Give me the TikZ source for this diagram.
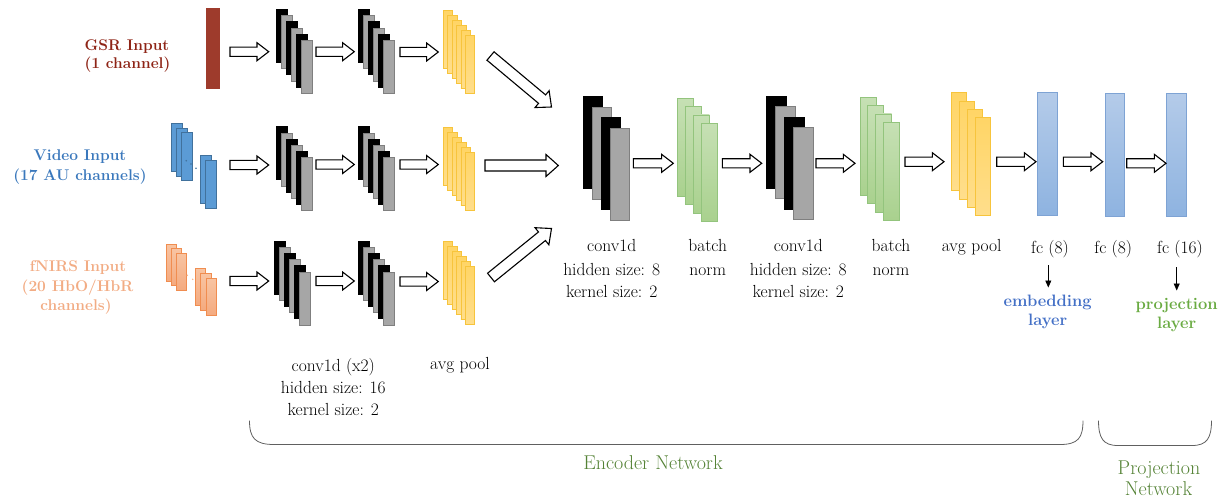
\documentclass[tikz,border=0pt]{standalone}
\usetikzlibrary{calc,arrows.meta}
\definecolor{gryf}{HTML}{A6A6A6}
\definecolor{gryd}{HTML}{7F7F7F}
\definecolor{yelt}{HTML}{FFD566}
\definecolor{yelb}{HTML}{FFDE8C}
\definecolor{yeld}{HTML}{F7C43C}
\definecolor{grnt}{HTML}{C6E0B4}
\definecolor{grnb}{HTML}{A9D18E}
\definecolor{grnd}{HTML}{93C47D}
\definecolor{blut}{HTML}{B4CBE9}
\definecolor{blub}{HTML}{8EB3E0}
\definecolor{blud}{HTML}{7EA3D4}
\definecolor{vidf}{HTML}{5B9BD5}
\definecolor{vidd}{HTML}{41719C}
\definecolor{orgt}{HTML}{F8C4A2}
\definecolor{orgb}{HTML}{F4AA7F}
\definecolor{orgd}{HTML}{F08D50}
\definecolor{gsrf}{HTML}{9E3B2C}
\definecolor{gsrtxt}{HTML}{8E2416}
\definecolor{vidtxt}{HTML}{3A78BC}
\definecolor{fntxt}{HTML}{F2AC84}
\definecolor{embtxt}{HTML}{4470C6}
\definecolor{prjtxt}{HTML}{6AAB42}
\definecolor{nettxt}{HTML}{548235}
\definecolor{bracecol}{HTML}{606060}
\tikzset{
  box/.style={inner sep=0pt, outer sep=0pt, anchor=north west, line width=0.8pt},
  blk/.style={box, fill=black, draw=black},
  gry/.style={box, fill=gryf, draw=gryd},
  yel/.style={box, top color=yelt, bottom color=yelb, draw=yeld},
  grn/.style={box, top color=grnt, bottom color=grnb, draw=grnd},
  blu/.style={box, top color=blut, bottom color=blub, draw=blud},
  vid/.style={box, fill=vidf, draw=vidd},
  org/.style={box, top color=orgt, bottom color=orgb, draw=orgd},
  gsrbox/.style={box, fill=gsrf, draw=gsrf},
  fatline/.style={draw=black, fill=white, line width=1.1pt, line join=miter},
  lab/.style={font=\fontsize{17.5}{22}\selectfont, anchor=base, inner sep=0pt},
  inlab/.style={font=\fontsize{15.5}{19}\selectfont\bfseries, anchor=base, inner sep=0pt},
  sublab/.style={font=\fontsize{16.5}{19}\selectfont\bfseries, anchor=base, inner sep=0pt},
  netlab/.style={font=\fontsize{20}{22}\selectfont, anchor=base, inner sep=0pt, text=nettxt},
  bracepath/.style={draw=bracecol, line width=0.8pt},
  thinarrow/.style={-{Triangle[width=6pt,length=7pt]}, line width=0.7pt}
}
% name, style list, x, y, dx, dy, w, h
\newcommand\layerstack[8]{%
  \foreach \s [count=\i from 0] in {#2}
    \node[\s, minimum width=#7pt, minimum height=#8pt] (#1-\i) at ({#3+\i*#5},{#4+\i*#6}) {};
}
% start, end, body half, head half, head length
\newcommand\blockarrow[5]{%
  \coordinate (hb) at ($(#2)!#5!(#1)$);
  \draw[fatline] ($(#1)!#3!90:(#2)$) -- ($(hb)!#3!90:(#2)$) -- ($(hb)!#4!90:(#2)$) -- (#2)
     -- ($(hb)!#4!-90:(#2)$) -- ($(hb)!#3!-90:(#2)$) -- ($(#1)!#3!-90:(#2)$) -- cycle;
}
\begin{document}
\begin{tikzpicture}[x=1pt,y=-1pt]
\useasboundingbox (0,0) rectangle (1229,499);

% ---------- inputs ----------
\node[gsrbox, minimum width=13pt, minimum height=80pt] (gsr) at (206,8) {};

\layerstack{vid}{vid,vid,vid}{171}{123.3}{5}{4.7}{11}{48}
\node[vid, minimum width=11pt, minimum height=48pt] (vid-3) at (200.3,155) {};
\node[vid, minimum width=11pt, minimum height=48pt] (vid-4) at (205.7,160.3) {};
\foreach \px/\py [count=\k] in {186.3/160.7,191/164,196/168.3}
  \fill[vidd] (\px,\py) circle[radius=0.9pt] coordinate (vdot-\k);

\layerstack{fna}{org,org,org}{166}{244.3}{5}{4.5}{10.7}{37}
\layerstack{fnb}{org,org,org}{195}{268.3}{5.5}{5.2}{10.7}{37}
\foreach \px/\py [count=\k] in {187.3/275.3,192.7/279.3}
  \fill[orgd!70] (\px,\py) circle[radius=0.8pt] coordinate (fdot-\k);

% ---------- branch layers ----------
\layerstack{gc1}{blk,gry,blk,gry,blk,gry}{276}{9.3}{5}{6.2}{11}{53}
\layerstack{gc2}{blk,gry,blk,gry,blk,gry}{358.3}{9.3}{5}{6.2}{11}{53}
\layerstack{gp}{yel,yel,yel,yel,yel,yel}{443.3}{10}{4.4}{5}{9.5}{58}

\layerstack{vc1}{blk,gry,blk,gry,blk,gry}{276}{126.7}{5}{6.2}{11}{53}
\layerstack{vc2}{blk,gry,blk,gry,blk,gry}{358.3}{126.7}{5}{6.2}{11}{53}
\layerstack{vp}{yel,yel,yel,yel,yel,yel}{443.3}{127.7}{4.4}{5}{9.5}{58}

\layerstack{fc1}{blk,gry,blk,gry,blk,gry}{274}{241}{5}{6.2}{11}{53}
\layerstack{fc2}{blk,gry,blk,gry,blk,gry}{358.3}{241}{5}{6.2}{11}{53}
\layerstack{fp}{yel,yel,yel,yel,yel,yel}{443.3}{241}{4.4}{5}{9.5}{58}

% ---------- shared layers ----------
\layerstack{conv1}{blk,gry,blk,gry}{583.3}{96.7}{9}{10.5}{19.5}{92}
\layerstack{bn1}{grn,grn,grn,grn}{677.7}{98.3}{7.8}{8.3}{16}{98}
\layerstack{conv2}{blk,gry,blk,gry}{766.7}{96}{9}{10.5}{19.5}{92}
\layerstack{bn2}{grn,grn,grn,grn}{860}{97.3}{7.8}{8.3}{16}{98}
\layerstack{pool}{yel,yel,yel,yel}{951.7}{92.7}{8}{8.3}{14.5}{98}
\node[blu, minimum width=19.5pt, minimum height=123.4pt] (fcA) at (1037.7,92.3) {};
\node[blu, minimum width=19pt, minimum height=123.4pt] (fcB) at (1105,93.3) {};
\node[blu, minimum width=19.3pt, minimum height=123.4pt] (fcC) at (1166.7,93.3) {};

% ---------- arrow end points ----------
\coordinate (ga1s) at (230,51.7);   \coordinate (ga1e) at (268.7,51.7);
\coordinate (ga2s) at (316,51.7);   \coordinate (ga2e) at (354.3,51.7);
\coordinate (ga3s) at (400,52);     \coordinate (ga3e) at (438.3,52);
\coordinate (gds)  at (490.5,56);   \coordinate (gde)  at (551.5,107);
\coordinate (va1s) at (230,165);    \coordinate (va1e) at (268.7,165);
\coordinate (va2s) at (316,164.5);  \coordinate (va2e) at (354.3,164.5);
\coordinate (va3s) at (400,164.5);  \coordinate (va3e) at (438.3,164.5);
\coordinate (vds)  at (485,165.5);  \coordinate (vde)  at (558.3,165.5);
\coordinate (fa1s) at (230,281);    \coordinate (fa1e) at (268.7,281);
\coordinate (fa2s) at (316,281);    \coordinate (fa2e) at (354.3,281);
\coordinate (fa3s) at (400,281.5);  \coordinate (fa3e) at (438.3,281.5);
\coordinate (fds)  at (491,277.5);  \coordinate (fde)  at (551.5,228.5);
\coordinate (m1s) at (633.3,163.3); \coordinate (m1e) at (673.3,163.3);
\coordinate (m2s) at (722.3,163.3); \coordinate (m2e) at (761.7,163.3);
\coordinate (m3s) at (816,163.3);   \coordinate (m3e) at (855,163.3);
\coordinate (m4s) at (905,161.7);   \coordinate (m4e) at (944,161.7);
\coordinate (m5s) at (996.7,161.7); \coordinate (m5e) at (1036,161.7);
\coordinate (m6s) at (1063.3,161.7);\coordinate (m6e) at (1102.7,161.7);
\coordinate (m7s) at (1126.7,163.3);\coordinate (m7e) at (1166,163.3);

\foreach \a in {ga1,ga2,ga3,va1,va2,va3,fa1,fa2,fa3,m1,m2,m3,m4,m5,m6,m7}
  {\blockarrow{\a s}{\a e}{4.6pt}{9pt}{11.7pt}}
\foreach \a in {gd,vd,fd}
  {\blockarrow{\a s}{\a e}{5.5pt}{11pt}{12.3pt}}

% ---------- input labels ----------
\node[inlab, text=gsrtxt] (gsrl1) at (127,50.7) {GSR Input};
\node[inlab, text=gsrtxt] (gsrl2) at (127.5,68.3) {(1 channel)};
\node[inlab, text=vidtxt] (vidl1) at (80,160.7) {Video Input};
\node[inlab, text=vidtxt] (vidl2) at (80,180) {(17 AU channels)};
\node[inlab, text=fntxt] (fnl1) at (78,271.7) {fNIRS Input};
\node[inlab, text=fntxt] (fnl2) at (77.5,291.7) {(20 HbO/HbR};
\node[inlab, text=fntxt] (fnl3) at (76,310.3) {channels)};

% ---------- layer labels ----------
\node[lab] (cxl1) at (333.3,371.5) {conv1d (x2)};
\node[lab] (cxl2) at (333.3,393.3) {hidden size: 16};
\node[lab] (cxl3) at (333.3,415.3) {kernel size: 2};
\node[lab] (spl) at (460,369.5) {avg pool};

\node[lab] (c1l1) at (611.7,251.7) {conv1d};
\node[lab] (c1l2) at (611.7,275.5) {hidden size: 8};
\node[lab] (c1l3) at (611.7,297.5) {kernel size: 2};
\node[lab] (b1l1) at (707.7,251.7) {batch};
\node[lab] (b1l2) at (707.7,275.5) {norm};
\node[lab] (c2l1) at (798.3,251.7) {conv1d};
\node[lab] (c2l2) at (798.3,275.5) {hidden size: 8};
\node[lab] (c2l3) at (798.3,297.5) {kernel size: 2};
\node[lab] (b2l1) at (891,251.7) {batch};
\node[lab] (b2l2) at (891,275.5) {norm};
\node[lab] (bpl) at (971.7,251.7) {avg pool};
\node[lab] (fcAl) at (1050,253.5) {fc (8)};
\node[lab] (fcBl) at (1113.3,253.5) {fc (8)};
\node[lab] (fcCl) at (1180,253.5) {fc (16)};

\node[sublab, text=embtxt] (emb1) at (1047.7,306.5) {embedding};
\node[sublab, text=embtxt] (emb2) at (1047.7,325) {layer};
\node[sublab, text=prjtxt] (prj1) at (1176.7,309.5) {projection};
\node[sublab, text=prjtxt] (prj2) at (1176.7,328.3) {layer};

\coordinate (d1s) at (1048.3,265); \coordinate (d1e) at (1048.3,287.5);
\coordinate (d2s) at (1176.7,267); \coordinate (d2e) at (1176.7,290.5);
\draw[thinarrow] (d1s) -- (d1e);
\draw[thinarrow] (d2s) -- (d2e);

% ---------- braces ----------
\coordinate (encL) at (249.5,420.5); \coordinate (encR) at (1083,420.5);
\coordinate (prjL) at (1098.5,420.5); \coordinate (prjR) at (1211.5,420.5);
\draw[bracepath] (encL) .. controls (249.5,438) and (255,444.5) .. (274,444.5)
   -- (1060,444.5) .. controls (1078,444.5) and (1083,438) .. (encR);
\draw[bracepath] (prjL) .. controls (1098.5,438) and (1103,445.5) .. (1118,445.5)
   -- (1192,445.5) .. controls (1207,445.5) and (1211.5,438) .. (prjR);

\node[netlab] (encl) at (653,469.3) {Encoder Network};
\node[netlab] (prjl1) at (1159,474) {Projection};
\node[netlab] (prjl2) at (1158.5,495) {Network};
\end{tikzpicture}
\end{document}
